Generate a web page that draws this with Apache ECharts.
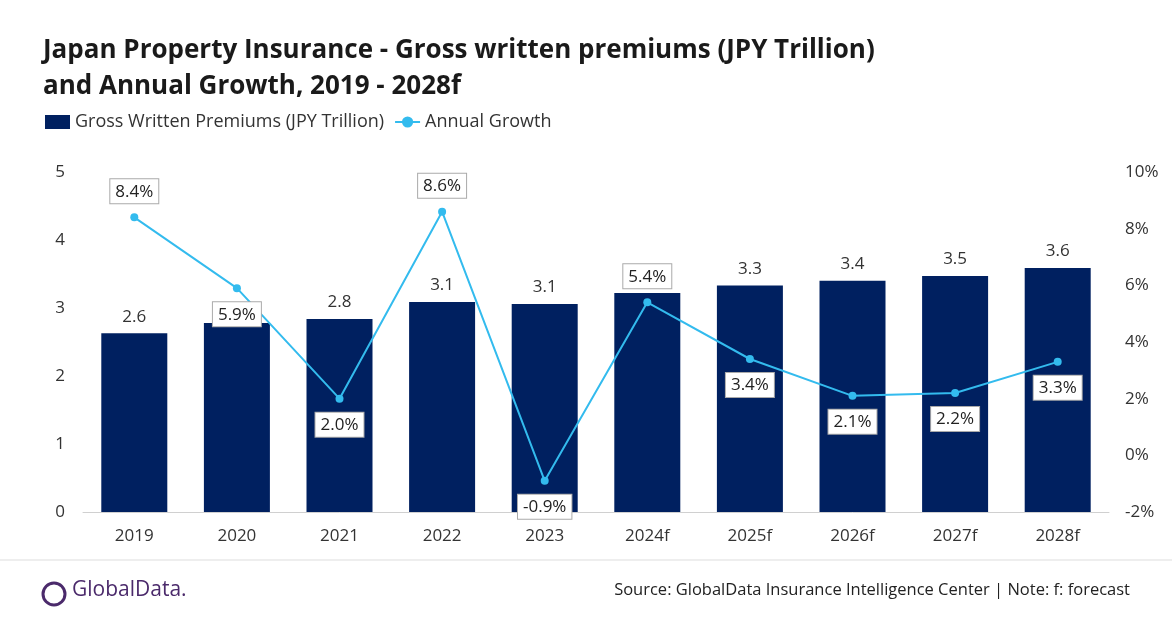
<!DOCTYPE html>
<html><head><meta charset="utf-8">
<script src="https://cdn.jsdelivr.net/npm/echarts@6/dist/echarts.min.js"></script>
<style>body{margin:0}#c{width:1172px;height:628px}</style></head>
<body><div id="c"></div>
<script>
const categories=['2019','2020','2021','2022','2023','2024f','2025f','2026f','2027f','2028f'];
const premiums=[2.63,2.78,2.84,3.09,3.06,3.22,3.33,3.40,3.47,3.59];
const growth=[8.4,5.9,2.0,8.6,-0.9,5.4,3.4,2.1,2.2,3.3];
const growthPos=['top','bottom','bottom','top','bottom','top','bottom','bottom','bottom','bottom'];
const hideBarLabel=[false,true,false,false,false,true,false,false,false,false];
const font='"Open Sans", sans-serif';
const chart=echarts.init(document.getElementById('c'));
chart.setOption({
  animation:false,
  textStyle:{fontFamily:font},
  title:{text:'Japan Property Insurance - Gross written premiums (JPY Trillion)\nand Annual Growth, 2019 - 2028f',left:38,top:28,textStyle:{fontSize:26,fontWeight:'bold',color:'#1a1a1a',lineHeight:36,fontFamily:font}},
  legend:{left:40,top:108,itemGap:10,textStyle:{fontSize:18,color:'#333'},
    data:[{name:'Gross Written Premiums (JPY Trillion)',icon:'rect',itemWidth:26,itemHeight:12},{name:'Annual Growth',itemWidth:26}]},
  grid:{left:83,right:63,top:172,bottom:116},
  xAxis:{type:'category',data:categories,axisTick:{show:false},axisLine:{lineStyle:{color:'#d0d0d0'}},axisLabel:{fontSize:17,color:'#333',margin:16}},
  yAxis:[
    {type:'value',min:0,max:5,interval:1,splitLine:{show:false},axisLabel:{fontSize:17,color:'#333',margin:18}},
    {type:'value',min:-2,max:10,interval:2,splitLine:{show:false},axisLabel:{fontSize:17,color:'#333',formatter:'{value}%',margin:16}}
  ],
  series:[
    {name:'Gross Written Premiums (JPY Trillion)',type:'bar',barWidth:66,itemStyle:{color:'#002060'},
     data:premiums.map((v,i)=>({value:v,label:{show:!hideBarLabel[i]}})),
     label:{position:'top',fontSize:17,color:'#333',distance:8,formatter:p=>p.value.toFixed(1)}},
    {name:'Annual Growth',type:'line',yAxisIndex:1,z:5,symbol:'circle',symbolSize:8,
     lineStyle:{color:'#33bbee',width:2},itemStyle:{color:'#33bbee'},
     data:growth.map((v,i)=>({value:v,label:{position:growthPos[i]}})),
     label:{show:true,fontSize:17,color:'#222',backgroundColor:'#fff',borderColor:'#aaa',borderWidth:1,padding:[4,5,3,5],distance:10,formatter:p=>p.value.toFixed(1)+'%'}}
  ],
  graphic:[
    {type:'line',shape:{x1:0,y1:560,x2:1172,y2:560},style:{stroke:'#ddd',lineWidth:1}},
    {type:'circle',shape:{cx:54,cy:594,r:11},style:{fill:'none',stroke:'#4b2a6b',lineWidth:3}},
    {type:'text',left:72,top:580,style:{text:'GlobalData.',fontSize:21,fill:'#4b2a6b',fontFamily:font}},
    {type:'text',right:42,top:582,style:{text:'Source: GlobalData Insurance Intelligence Center | Note: f: forecast',fontSize:16.5,fill:'#222',fontFamily:font}}
  ]
});
</script></body></html>
